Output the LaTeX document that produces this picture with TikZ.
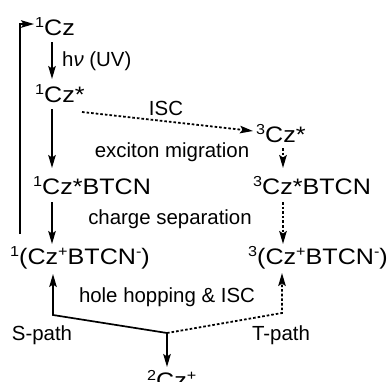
\documentclass[tikz,border=0pt]{standalone}
\usepackage{fontspec}
\setmainfont{Liberation Sans}
\newfontfamily\spfont{Liberation Sans}[FakeStretch=1.12]
\usetikzlibrary{arrows.meta}
\newcommand\upi[1]{\raisebox{7.2bp}{\fontsize{14.5}{14.5}\selectfont #1}}
\tikzset{
  lbl/.style={inner sep=0pt, font=\fontsize{20.5}{23}\selectfont},
  sp/.style={inner sep=0pt, anchor=base west, font=\spfont\fontsize{22.5}{25}\selectfont},
  arr/.style={line width=1.7bp, -{Stealth[length=13bp,width=7.5bp,inset=2.5bp]}},
  darr/.style={line width=1.8bp, dash pattern=on 2.6bp off 2bp, -{Stealth[length=13bp,width=7.5bp,inset=2.5bp]}},
}
\begin{document}
\begin{tikzpicture}[x=1bp,y=-1bp]
\useasboundingbox (0,0) rectangle (387,382);
% species
\node[sp] (n1) at (35,35) {\upi{1}Cz};
\node[sp] (n2) at (35,102) {\upi{1}Cz*};
\node[sp] (n3) at (33,194) {\upi{1}Cz*BTCN};
\node[sp] (n4) at (10,264) {\upi{1}(Cz\upi{+}BTCN\upi{-})};
\node[sp] (n5) at (256,142) {\upi{3}Cz*};
\node[sp] (n6) at (253,194) {\upi{3}Cz*BTCN};
\node[sp] (n7) at (248,264) {\upi{3}(Cz\upi{+}BTCN\upi{-})};
\node[sp] (n8) at (147,388) {\upi{2}Cz\upi{+}};
% labels
\node[lbl, anchor=base west] (lhv) at (62,66) {h{\itshape ν} (UV)};
\node[lbl] (lisc) at (166,108) {ISC};
\node[lbl] (lex) at (172,152) {exciton migration};
\node[lbl] (lcs) at (170,219) {charge separation};
\node[lbl] (lhh) at (167,297) {hole hopping \& ISC};
\node[lbl] (ls) at (42,335) {S-path};
\node[lbl] (lt) at (281,335) {T-path};
% connector coordinates
\coordinate (a1) at (52,42);  \coordinate (a2) at (52,79);
\coordinate (b1) at (52,109); \coordinate (b2) at (52,168);
\coordinate (c1) at (52,202); \coordinate (c2) at (52,244);
\coordinate (f1) at (20,234); \coordinate (f2) at (20,24); \coordinate (f3) at (34,24);
\coordinate (i1) at (82,112); \coordinate (i2) at (253,131);
\coordinate (d1) at (283,148); \coordinate (d2) at (283,168);
\coordinate (e1) at (283,202); \coordinate (e2) at (283,244);
\coordinate (J) at (167,333); \coordinate (L) at (53,315); \coordinate (R) at (282,313);
\coordinate (Lt) at (53,274); \coordinate (Rt) at (282,273);
\coordinate (Jb) at (167,367);
% connectors
\draw[arr] (a1) -- (a2);
\draw[arr] (b1) -- (b2);
\draw[arr] (c1) -- (c2);
\draw[arr] (f1) -- (f2) -- (f3);
\draw[darr] (i1) -- (i2);
\draw[darr] (d1) -- (d2);
\draw[darr] (e1) -- (e2);
\draw[arr] (J) -- (L) -- (Lt);
\draw[darr] (J) -- (R) -- (Rt);
\draw[arr] (J) -- (Jb);
\end{tikzpicture}
\end{document}
